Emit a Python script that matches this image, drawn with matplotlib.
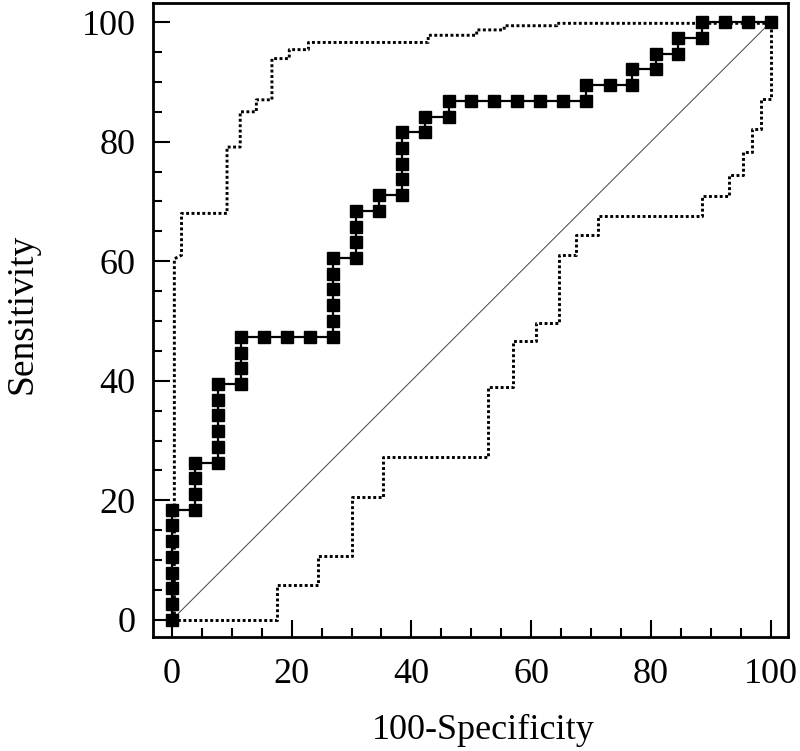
import matplotlib
matplotlib.use("Agg")
import matplotlib.pyplot as plt
from matplotlib.ticker import MultipleLocator

plt.rcParams['font.family'] = ['Liberation Serif', 'DejaVu Serif']

# ROC curve points (100-Specificity, Sensitivity)
roc_x = [0, 0, 0, 0, 0, 0, 0, 0,
         3.8, 3.8, 3.8, 3.8,
         7.7, 7.7, 7.7, 7.7, 7.7, 7.7,
         11.5, 11.5, 11.5, 11.5,
         15.4, 19.2, 23.1,
         26.9, 26.9, 26.9, 26.9, 26.9, 26.9,
         30.8, 30.8, 30.8, 30.8,
         34.6, 34.6,
         38.5, 38.5, 38.5, 38.5, 38.5,
         42.3, 42.3,
         46.2, 46.2,
         50.0, 53.8, 57.7, 61.5, 65.4,
         69.2, 69.2,
         73.1,
         76.9, 76.9,
         80.8, 80.8,
         84.6, 84.6,
         88.5, 88.5,
         92.3, 96.2, 100]
roc_y = [0, 2.6, 5.3, 7.9, 10.5, 13.2, 15.8, 18.4,
         18.4, 21.1, 23.7, 26.3,
         26.3, 28.9, 31.6, 34.2, 36.8, 39.5,
         39.5, 42.1, 44.7, 47.4,
         47.4, 47.4, 47.4,
         47.4, 50.0, 52.6, 55.3, 57.9, 60.5,
         60.5, 63.2, 65.8, 68.4,
         68.4, 71.1,
         71.1, 73.7, 76.3, 78.9, 81.6,
         81.6, 84.2,
         84.2, 86.8,
         86.8, 86.8, 86.8, 86.8, 86.8,
         86.8, 89.5,
         89.5,
         89.5, 92.1,
         92.1, 94.7,
         94.7, 97.4,
         97.4, 100,
         100, 100, 100]

# upper confidence bound
upper_x = [0.4, 0.4, 1.6, 1.6, 9.2, 9.2, 11.4, 11.4, 14.1, 14.1, 16.7, 16.7,
           19.6, 19.6, 22.8, 22.8, 42.8, 42.8, 50.9, 50.9, 55.5, 55.5,
           64.3, 64.3, 100]
upper_y = [0, 60.4, 61.0, 68.0, 68.0, 79.1, 79.1, 85.0, 85.0, 87.0, 87.0, 93.9,
           93.9, 95.4, 95.4, 96.6, 96.6, 97.8, 97.8, 98.7, 98.7, 99.4,
           99.4, 99.8, 99.8]

# lower confidence bound
lower_x = [0, 17.6, 17.6, 24.4, 24.4, 30.0, 30.0, 35.3, 35.3, 52.8, 52.8,
           57.0, 57.0, 60.8, 60.8, 64.6, 64.6, 67.5, 67.5, 71.2, 71.2,
           88.5, 88.5, 93.1, 93.1, 95.3, 95.3, 96.9, 96.9, 98.4, 98.4,
           100, 100]
lower_y = [0, 0, 5.8, 5.8, 10.6, 10.6, 20.5, 20.5, 27.2, 27.2, 39.0,
           39.0, 46.6, 46.6, 49.6, 49.6, 61.0, 61.0, 64.4, 64.4, 67.6,
           67.6, 70.9, 70.9, 74.4, 74.4, 78.3, 78.3, 82.2, 82.2, 87.2,
           87.2, 100]

fig = plt.figure(figsize=(8, 7.51), dpi=100)
ax = fig.add_axes([0.191, 0.152, 0.794, 0.844])

ax.plot([0, 100], [0, 100], color='#444444', lw=0.7)
ax.plot(upper_x, upper_y, color='black', lw=2.1, linestyle=(0, (1, 0.85)))
ax.plot(lower_x, lower_y, color='black', lw=2.1, linestyle=(0, (1, 0.85)))
ax.plot(roc_x, roc_y, color='black', lw=1.6, marker='s', markersize=8.5,
        markeredgecolor='black', markerfacecolor='black')

ax.set_xlim(-3.2, 102.9)
ax.set_ylim(-2.85, 103.2)

ax.xaxis.set_major_locator(MultipleLocator(20))
ax.xaxis.set_minor_locator(MultipleLocator(5))
ax.yaxis.set_major_locator(MultipleLocator(20))
ax.yaxis.set_minor_locator(MultipleLocator(5))

ax.tick_params(which='both', direction='in', width=1.5, top=False, right=False)
ax.tick_params(which='major', length=12)
ax.tick_params(which='minor', length=6.5)
ax.tick_params(axis='x', which='major', pad=15.5, labelsize=26)
ax.tick_params(axis='y', which='major', pad=12.5, labelsize=26)

for s in ax.spines.values():
    s.set_linewidth(2)

ax.set_xlabel('100-Specificity', fontsize=26)
ax.set_ylabel('Sensitivity', fontsize=27)
ax.xaxis.set_label_coords(0.52, -0.121)
ax.yaxis.set_label_coords(-0.179, 0.51)

fig.savefig('out.png', dpi=100)
